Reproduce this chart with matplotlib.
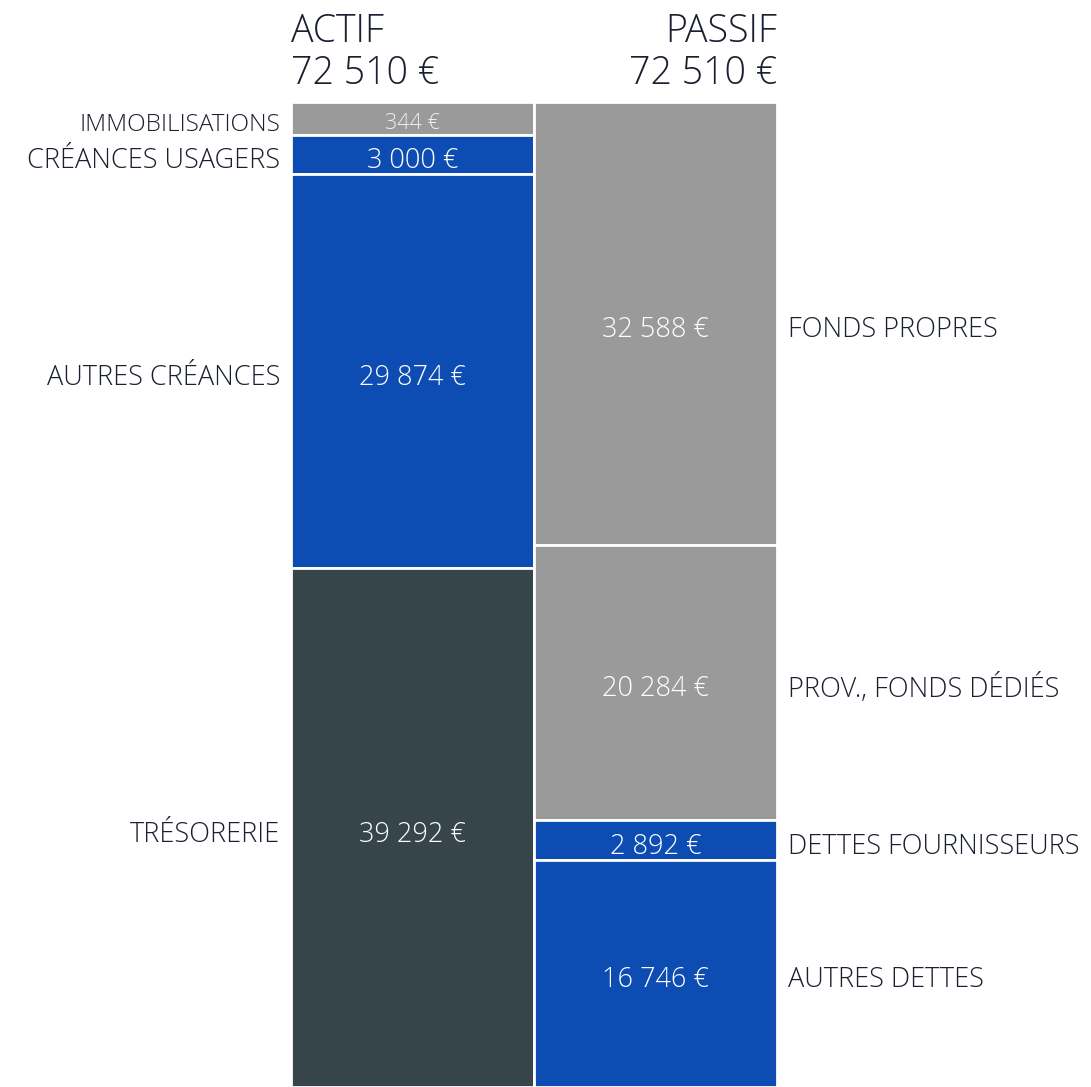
# Bilan actif / passif en deux colonnes empilées
import matplotlib
matplotlib.use("Agg")
import matplotlib.pyplot as plt

actif_labels = ["IMMOBILISATIONS", "CRÉANCES USAGERS", "AUTRES CRÉANCES", "TRÉSORERIE"]
actif_values = [344, 3000, 29874, 39292]
actif_colors = ["#9a9a9a", "#0d4db3", "#0d4db3", "#36454a"]

passif_labels = ["FONDS PROPRES", "PROV., FONDS DÉDIÉS", "DETTES FOURNISSEURS", "AUTRES DETTES"]
passif_values = [32588, 20284, 2892, 16746]
passif_colors = ["#9a9a9a", "#9a9a9a", "#0d4db3", "#0d4db3"]

FONT = "Open Sans"
TXT = "#1b2030"


def fmt(v):
    return f"{v:,}".replace(",", " ") + " €"


def display_heights(vals):
    # petits postes: hauteur minimale pour que le libellé tienne
    total = sum(vals)
    mn = 0.034 * total
    d = [max(v, mn) for v in vals]
    k = total / sum(d)
    return [v * k for v in d]


W, H = 1091, 1087
fig = plt.figure(figsize=(W / 100, H / 100), dpi=100)
top_px, left_px, right_px = 102, 291, 777
ax = fig.add_axes([left_px / W, 0, (right_px - left_px) / W, (H - top_px) / H])
total = sum(actif_values)
ax.set_xlim(0, 2)
ax.set_ylim(total, 0)
ax.axis("off")

cols = [(0.5, actif_labels, actif_values, actif_colors, "left"),
        (1.5, passif_labels, passif_values, passif_colors, "right")]
for xc, labels, vals, colors, side in cols:
    hs = display_heights(vals)
    y0 = 0
    for lab, v, h, c in zip(labels, vals, hs, colors):
        ax.bar(xc, h, bottom=y0, width=1, color=c, edgecolor="white", linewidth=2)
        ym = y0 + h / 2 + 500
        small = v < 1000
        ax.text(xc, ym - (150 if small else 0), fmt(v), ha="center", va="center", color="white",
                alpha=0.85 if small else 1, fontsize=15.5 if small else 19.5,
                family=FONT, weight="light")
        if side == "left":
            ax.text(-0.045, ym, lab, ha="right", va="center", color=TXT,
                    fontsize=17.5 if small else 19.5, family=FONT, weight="light")
        else:
            ax.text(2.045, ym, lab, ha="left", va="center", color=TXT,
                    fontsize=19.5, family=FONT, weight="light")
        y0 += h

fig.text(left_px / W, 1 - 12 / H, "ACTIF\n" + fmt(sum(actif_values)), ha="left", va="top",
         fontsize=27, family=FONT, weight="light", color=TXT, linespacing=1.12)
fig.text(right_px / W, 1 - 12 / H, "PASSIF\n" + fmt(sum(passif_values)), ha="right", va="top",
         fontsize=27, family=FONT, weight="light", color=TXT, linespacing=1.12)

fig.savefig("out.png", dpi=100)
